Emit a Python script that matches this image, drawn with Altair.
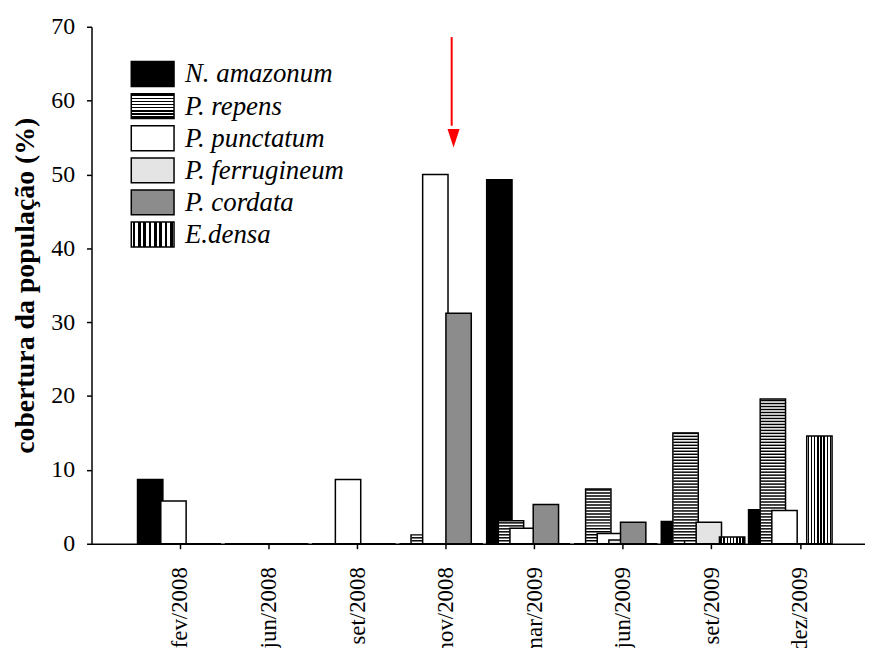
import altair as alt
import pandas as pd

months = ["fev/2008", "jun/2008", "set/2008", "nov/2008",
          "mar/2009", "jun/2009", "set/2009", "dez/2009"]
species = ["N. amazonum", "P. repens", "P. punctatum",
           "P. ferrugineum", "P. cordata", "E.densa"]

n_amazonum     = [8.7, 0, 0, 0, 49.3, 0, 3.0, 4.6]
p_repens       = [0, 0, 0, 1.2, 3.1, 7.4, 15.0, 19.6]
p_punctatum    = [5.8, 0, 8.7, 50.0, 2.1, 1.4, 0.4, 4.5]
p_ferrugineum  = [0, 0, 0, 0, 0, 0.5, 2.9, 0]
p_cordata      = [0, 0, 0, 31.2, 5.3, 2.9, 0, 0]
e_densa        = [0, 0, 0, 0, 0, 0, 0.9, 14.6]

series = [n_amazonum, p_repens, p_punctatum, p_ferrugineum, p_cordata, e_densa]

rows = []
for sp, vals in zip(species, series):
    for m, v in zip(months, vals):
        rows.append({"month": m, "species": sp, "value": v})
df = pd.DataFrame(rows)

SERIF = "Times"
SERIF_BOLD = "Liberation Serif"

def stripe_gradient(n, vertical_lines, frac=0.5):
    stops = [alt.GradientStop(offset=0, color="white")]
    for k in range(n):
        c = (k + 0.5) / n
        a = c - frac / (2 * n)
        b = c + frac / (2 * n)
        stops += [alt.GradientStop(offset=a, color="white"),
                  alt.GradientStop(offset=a, color="black"),
                  alt.GradientStop(offset=b, color="black"),
                  alt.GradientStop(offset=b, color="white")]
    stops.append(alt.GradientStop(offset=1, color="white"))
    if vertical_lines:
        return alt.LinearGradient(gradient="linear", stops=stops, x1=0, x2=1, y1=0, y2=0)
    return alt.LinearGradient(gradient="linear", stops=stops, x1=0, x2=0, y1=0, y2=1)

fills = ["black", "white", "white", "#e4e4e4", "#8c8c8c", stripe_gradient(8, True)]
legend_fills = ["black", stripe_gradient(8, False), "white", "#e4e4e4", "#8c8c8c",
                stripe_gradient(8, True)]

Y_SCALE = alt.Scale(domain=[0, 70], nice=False, zero=True)
bar_x_scale = alt.Scale(domain=months, paddingInner=0, paddingOuter=0.4305, align=0.587)
axis_x_scale = alt.Scale(domain=months, paddingInner=0, paddingOuter=0.367, align=0.688)
off_scale = alt.Scale(domain=species, paddingInner=0, paddingOuter=0.752)

y_axis = alt.Axis(values=list(range(0, 71, 10)), title="cobertura da população (%)",
                  tickSize=5, labelPadding=12, labelFontSize=24, labelFont=SERIF,
                  titleFont=SERIF_BOLD, titleFontSize=28, titleFontWeight="bold",
                  titlePadding=11)
x_axis = alt.Axis(labelAngle=-90, labelAlign="right", labelBaseline="middle",
                  labelPadding=18, tickSize=5, title=None, labelFontSize=23,
                  labelFont=SERIF)

BAR_W = 25.5

def bar_x():
    return alt.X("month:N", scale=bar_x_scale, axis=None, sort=months)

def bar_off():
    return alt.XOffset("species:N", scale=off_scale, sort=species)

layers = []
for i, sp in enumerate(species):
    layers.append(
        alt.Chart(df).transform_filter(alt.datum.species == sp)
        .mark_bar(fill=fills[i], stroke="black", strokeWidth=1.5, width=BAR_W)
        .encode(x=bar_x(), xOffset=bar_off(),
                y=alt.Y("value:Q", scale=Y_SCALE, axis=y_axis))
    )
    if sp == "P. repens":
        layers.append(
            alt.Chart(df).transform_filter(alt.datum.species == sp)
            .transform_calculate(ys="sequence(0.3, datum.value - 0.1, 0.404)")
            .transform_flatten(["ys"])
            .transform_calculate(ys2="datum.ys + 0.2")
            .mark_bar(fill="black", strokeWidth=0, width=BAR_W - 1)
            .encode(x=bar_x(), xOffset=bar_off(),
                    y=alt.Y("ys:Q", scale=Y_SCALE, axis=y_axis), y2="ys2:Q")
        )

# red arrow annotation
arrow_month = ["nov/2008"]
arrow_top = [68.6]
arrow_base = [56.6]
arrow_head = [54.9]
arrow_df = pd.DataFrame({"month": arrow_month, "y1": arrow_top,
                         "y2": arrow_base, "yh": arrow_head})
layers.append(
    alt.Chart(arrow_df).mark_rule(color="red", strokeWidth=2, xOffset=5.5)
    .encode(x=alt.X("month:N", scale=axis_x_scale, axis=x_axis, sort=months),
            y=alt.Y("y1:Q", scale=Y_SCALE, axis=y_axis), y2="y2:Q")
)
layers.append(
    alt.Chart(arrow_df).mark_point(shape="M-0.66,-1L0.66,-1L0,1Z", size=340,
                                   filled=True, color="red", opacity=1, xOffset=5.5)
    .encode(x=alt.X("month:N", scale=axis_x_scale, axis=None, sort=months),
            y=alt.Y("yh:Q", scale=Y_SCALE, axis=y_axis))
)

# manual legend
for i, sp in enumerate(species):
    top = 35 + i * 32.3
    ldf = pd.DataFrame({"species": [sp]})
    layers.append(
        alt.Chart(ldf).mark_rect(fill=legend_fills[i], stroke="black", strokeWidth=1.5)
        .encode(x=alt.value(40), x2=alt.value(83), y=alt.value(top), y2=alt.value(top + 25))
    )
    layers.append(
        alt.Chart(ldf).mark_text(align="left", baseline="middle", font=SERIF,
                                 fontStyle="italic", fontSize=27, color="black")
        .encode(x=alt.value(94), y=alt.value(top + 13), text="species:N")
    )

chart = (
    alt.layer(*layers)
    .resolve_scale(x="independent")
    .properties(width=778, height=520, autosize="none",
                padding={"left": 84, "top": 17, "right": 0, "bottom": 103},
                background="white")
    .configure_axis(domainColor="black", domainWidth=1.5, tickColor="black",
                    tickWidth=1.5, labelColor="black", labelFont=SERIF,
                    titleColor="black", grid=False)
    .configure_view(stroke=None)
)

chart.save("out.html", embed_options={"renderer": "svg", "actions": False})
